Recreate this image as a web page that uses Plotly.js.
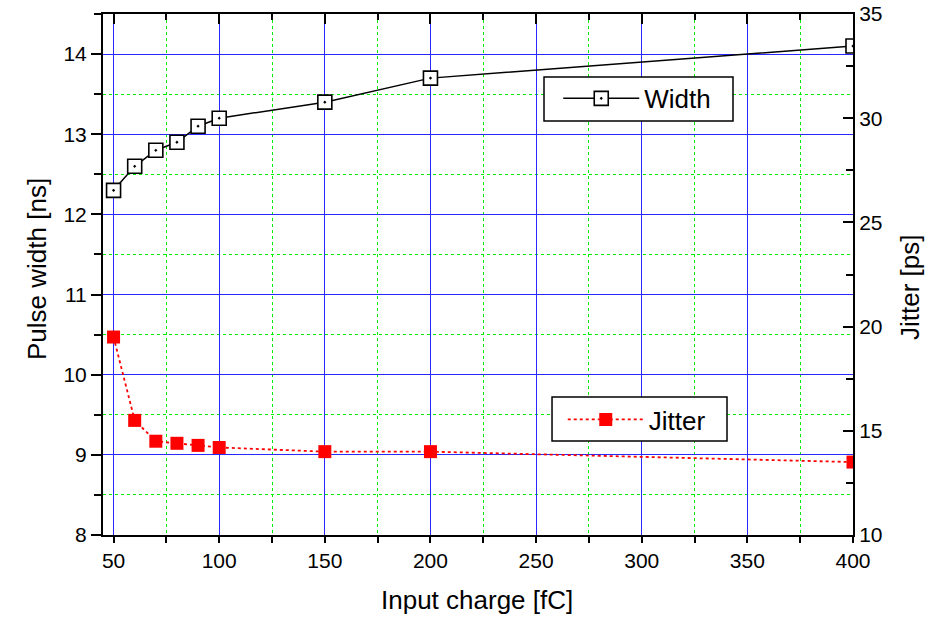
<!DOCTYPE html>
<html>
<head>
<meta charset="utf-8">
<script src="https://cdn.plot.ly/plotly-3.0.1.min.js"></script>
<style>html,body{margin:0;padding:0;background:#fff;}#chart{width:933px;height:618px;}</style>
</head>
<body>
<div id="chart"></div>
<script>
// Data
const charge = [50, 60, 70, 80, 90, 100, 150, 200, 400];          // Input charge [fC]
const pulseWidth = [12.3, 12.6, 12.8, 12.9, 13.1, 13.2, 13.4, 13.7, 14.1]; // ns
const jitter = [19.5, 15.5, 14.5, 14.4, 14.3, 14.2, 14.0, 14.0, 13.5];     // ps

const FONT = "Liberation Sans, Arial, sans-serif";
const TICKFONT = {family: "Liberation Sans Narrow, Arial Narrow, Liberation Sans, Arial, sans-serif", size: 21, color: "#000"};
const TITLEFONT = {family: FONT, size: 26, color: "#000"};
const BLUE = "rgb(40,40,255)";
const GREEN = "#00ee00";

const traces = [
  {
    x: charge, y: pulseWidth, name: "Width", type: "scatter", mode: "lines+markers",
    xaxis: "x", yaxis: "y", legend: "legend",
    line: {color: "#000", width: 1.5},
    marker: {symbol: "square-dot", size: 14, color: "#fff", line: {color: "#000", width: 1.6}},
    hoverinfo: "skip"
  },
  {
    x: charge, y: jitter, name: "Jitter", type: "scatter", mode: "lines+markers",
    xaxis: "x", yaxis: "y2", legend: "legend2",
    line: {color: "#ff0000", width: 1.8, dash: "dot"},
    marker: {symbol: "square", size: 13, color: "#ff0000", line: {color: "#ff0000", width: 0}},
    hoverinfo: "skip"
  },
  {
    // carrier for the top mirrored axis (draws nothing)
    x: charge, y: pulseWidth, type: "scatter", mode: "none", xaxis: "x2", yaxis: "y",
    showlegend: false, hoverinfo: "skip"
  }
];

const layout = {
  width: 933, height: 618,
  margin: {l: 103, r: 80, t: 14, b: 83, pad: 0},
  paper_bgcolor: "#fff", plot_bgcolor: "#fff",
  font: {family: FONT, color: "#000"},
  showlegend: true,
  xaxis: {
    range: [45, 400], tickmode: "linear", tick0: 50, dtick: 50,
    ticks: "outside", ticklen: 6, tickwidth: 2, tickcolor: "#000",
    showline: true, linecolor: "#000", linewidth: 2,
    showgrid: true, gridcolor: BLUE, gridwidth: 1,
    minor: {dtick: 25, tick0: 0, ticks: "outside", ticklen: 6, tickwidth: 2, tickcolor: "#000",
            showgrid: true, gridcolor: GREEN, gridwidth: 1, griddash: "dot"},
    zeroline: false, tickfont: TICKFONT, automargin: false
  },
  xaxis2: {
    overlaying: "x", matches: "x", side: "top",
    tickmode: "linear", tick0: 50, dtick: 50,
    ticks: "inside", ticklen: 10, tickwidth: 2, tickcolor: "#000",
    showticklabels: false, showline: true, linecolor: "#000", linewidth: 2,
    showgrid: false, zeroline: false, automargin: false,
    minor: {dtick: 25, tick0: 0, ticks: "inside", ticklen: 6, tickwidth: 2, tickcolor: "#000", showgrid: false}
  },
  yaxis: {
    range: [8, 14.5], tickmode: "linear", tick0: 8, dtick: 1,
    ticks: "outside", ticklen: 10, tickwidth: 2, tickcolor: "#000",
    showline: true, linecolor: "#000", linewidth: 2,
    showgrid: true, gridcolor: BLUE, gridwidth: 1,
    minor: {dtick: 0.5, tick0: 0, ticks: "outside", ticklen: 7, tickwidth: 2, tickcolor: "#000",
            showgrid: true, gridcolor: GREEN, gridwidth: 1, griddash: "dot"},
    zeroline: false, tickfont: TICKFONT, automargin: false
  },
  yaxis2: {
    overlaying: "y", side: "right", range: [10, 35], tickmode: "linear", tick0: 10, dtick: 5,
    ticks: "inside", ticklen: 10, tickwidth: 2, tickcolor: "#000",
    showline: true, linecolor: "#000", linewidth: 2,
    showgrid: false, zeroline: false,
    minor: {dtick: 2.5, tick0: 0, ticks: "inside", ticklen: 7, tickwidth: 2, tickcolor: "#000", showgrid: false},
    tickfont: TICKFONT, automargin: false
  },
  annotations: [
    {text: "Input charge [fC]", xref: "paper", yref: "paper", x: 0.4987, y: -0.1248,
     xanchor: "center", yanchor: "middle", showarrow: false, font: TITLEFONT},
    {text: "Pulse width [ns]", xref: "paper", yref: "paper", x: -0.088, y: 0.5106,
     xanchor: "center", yanchor: "middle", textangle: -90, showarrow: false, font: TITLEFONT},
    {text: "Jitter [ps]", xref: "paper", yref: "paper", x: 1.076, y: 0.474,
     xanchor: "center", yanchor: "middle", textangle: -90, showarrow: false, font: TITLEFONT}
  ],
  shapes: [
    {type: "rect", xref: "paper", yref: "paper", x0: 0.588, x1: 0.84, y0: 0.7946, y1: 0.879,
     fillcolor: "#fff", line: {color: "#000", width: 1.5}, layer: "above"},
    {type: "rect", xref: "paper", yref: "paper", x0: 0.5987, x1: 0.832, y0: 0.1804, y1: 0.2649,
     fillcolor: "#fff", line: {color: "#000", width: 1.5}, layer: "above"}
  ],
  legend: {
    x: 0.607, y: 0.883, xanchor: "left", yanchor: "top",
    bgcolor: "rgba(0,0,0,0)", borderwidth: 0,
    font: {family: FONT, size: 26, color: "#000"}, itemwidth: 76,
    tracegroupgap: 0
  },
  legend2: {
    x: 0.613, y: 0.2668, xanchor: "left", yanchor: "top",
    bgcolor: "rgba(0,0,0,0)", borderwidth: 0,
    font: {family: FONT, size: 26, color: "#000"}, itemwidth: 76,
    tracegroupgap: 0
  }
};

Plotly.newPlot("chart", traces, layout, {staticPlot: true, displayModeBar: false});
</script>
</body>
</html>
